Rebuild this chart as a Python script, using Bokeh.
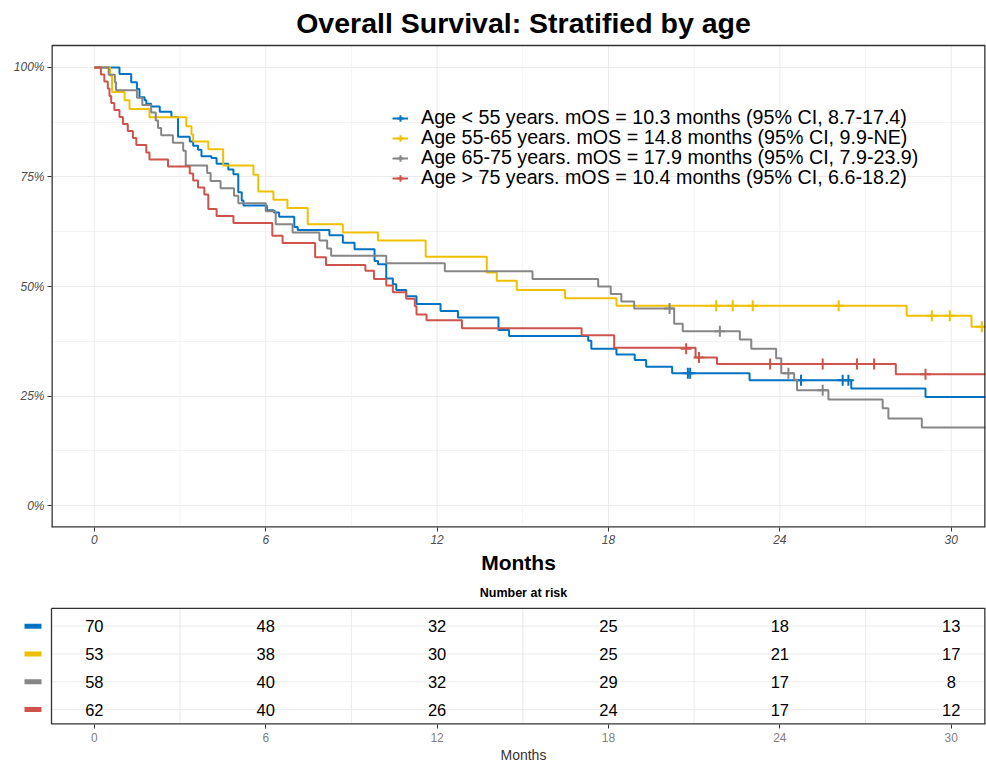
from bokeh.plotting import figure
from bokeh.models import (Range1d, FixedTicker, PrintfTickFormatter, Legend,
                          LegendItem, Title)
from bokeh.core.properties import value
from bokeh.layouts import column
from bokeh.embed import file_html
from bokeh.resources import INLINE

FONT = "Liberation Sans"

# ---------------- data ----------------
title_text = "Overall Survival: Stratified by age"
group_labels = [
    "Age < 55 years. mOS = 10.3 months (95% CI, 8.7-17.4)",
    "Age 55-65 years. mOS = 14.8 months (95% CI, 9.9-NE)",
    "Age 65-75 years. mOS = 17.9 months (95% CI, 7.9-23.9)",
    "Age > 75 years. mOS = 10.4 months (95% CI, 6.6-18.2)",
]
colors = ["#0073C2", "#EFC000", "#868686", "#CD534C"]

blue_t = [0, 0.88, 1.29, 1.49, 1.58, 1.76, 1.82, 1.99, 2.29, 2.70, 2.93, 3.34, 3.46, 3.63,
          3.75, 4.10, 4.28, 4.69, 4.87, 5.04, 5.16, 5.22, 6.04, 6.29, 6.47, 7.00, 7.12, 8.23,
          8.70, 9.11, 9.81, 9.93, 10.22, 10.45, 10.57, 10.92, 11.28, 12.12, 12.73, 14.15,
          14.52, 17.29, 17.40, 18.28, 18.92, 19.32, 20.23, 22.94, 26.50, 29.10]
blue_s = [100, 98.5, 96.6, 95.1, 93.2, 92.5, 91.7, 91.1, 89.9, 88.7, 84.2, 83.1, 82.1, 81.2,
          79.7, 79.3, 78.0, 76.7, 75.6, 71.5, 69.6, 68.5, 67.4, 66.9, 65.9, 63.6, 62.9, 61.7,
          60.0, 58.5, 55.8, 55.1, 51.8, 50.5, 49.2, 47.8, 46.0, 44.4, 42.9, 40.1,
          38.7, 37.6, 35.8, 34.5, 33.2, 31.7, 30.2, 28.6, 26.7, 24.8]
blue_cens_t = [20.78, 20.86, 24.74, 26.20, 26.40]
blue_cens_s = [30.2, 30.2, 28.6, 28.6, 28.6]

yellow_t = [0, 0.55, 0.62, 1.06, 1.23, 1.93, 3.22, 3.40, 3.46, 3.99, 4.51, 5.57, 5.74, 6.27,
            6.76, 7.47, 8.70, 9.93, 11.60, 13.74, 14.09, 14.79, 16.48, 18.28, 28.44, 30.71]
yellow_s = [100, 98.1, 94.4, 92.5, 90.5, 88.6, 86.6, 84.7, 83.1, 81.3, 77.6, 75.5, 71.7, 69.8,
            67.9, 64.2, 62.3, 60.5, 56.8, 53.2, 51.3, 49.2, 47.3, 45.6, 43.3, 40.8]
yellow_cens_t = [21.77, 22.35, 23.05, 26.06, 29.32, 29.95, 31.07]
yellow_cens_s = [45.6, 45.6, 45.6, 45.6, 43.3, 43.3, 40.8]

grey_t = [0, 0.50, 0.72, 0.76, 1.49, 1.68, 1.99, 2.15, 2.23, 2.34, 2.75, 3.11, 3.20, 3.95,
          4.07, 4.42, 4.89, 5.04, 6.00, 6.35, 6.94, 7.88, 8.15, 8.29, 10.22, 12.27, 15.34,
          17.64, 18.08, 18.45, 18.90, 20.30, 20.60, 22.60, 23.00, 23.87, 24.05, 24.50, 24.60,
          25.70, 27.60, 27.80, 28.97]
grey_s = [100, 98.3, 96.6, 94.8, 93.1, 91.4, 89.7, 87.9, 86.2, 84.5, 82.8, 81.0, 77.6, 75.9,
          74.1, 72.4, 70.7, 69.0, 67.2, 64.2, 62.3, 60.5, 58.7, 57.0, 55.3, 53.5, 51.7,
          50.0, 48.3, 46.6, 45.0, 41.5, 39.8, 37.9, 35.8, 33.6, 30.2, 28.7, 26.3,
          24.2, 22.2, 19.9, 17.8]
grey_cens_t = [20.14, 21.90, 24.30, 25.50]
grey_cens_s = [45.0, 39.8, 30.2, 26.3]

red_t = [0, 0.23, 0.35, 0.47, 0.53, 0.59, 0.70, 0.88, 1.00, 1.17, 1.35, 1.47, 1.82, 1.93,
         2.58, 3.34, 3.46, 3.63, 3.85, 3.99, 4.28, 4.87, 6.23, 6.59, 7.73, 8.11, 9.49, 9.79,
         10.22, 10.45, 10.92, 11.22, 11.28, 11.63, 12.87, 17.06, 18.20, 21.05, 21.80, 28.06]
red_s = [100, 98.4, 96.8, 95.2, 93.5, 91.9, 90.3, 88.7, 87.1, 85.5, 83.9, 82.3, 80.6, 79.0,
         77.4, 75.8, 74.2, 72.6, 71.0, 67.7, 66.1, 64.5, 61.6, 59.9, 56.7, 54.9, 53.6, 51.7,
         50.2, 48.7, 47.2, 45.5, 43.6, 42.3, 40.5, 38.9, 36.0, 33.8, 32.3, 30.0]
red_cens_t = [20.72, 21.17, 23.66, 25.50, 26.70, 27.30, 29.10]
red_cens_s = [35.8, 33.8, 32.3, 32.3, 32.3, 32.3, 30.0]

last_followup = [31.5, 31.5, 31.5, 31.5]

month_ticks = [0, 6, 12, 18, 24, 30]
month_minor = [3, 9, 15, 21, 27]
pct_ticks = [0, 25, 50, 75, 100]
pct_minor = [12.5, 37.5, 62.5, 87.5]

risk_title = "Number at risk"
risk_blue = [70, 48, 32, 25, 18, 13]
risk_yellow = [53, 38, 30, 25, 21, 17]
risk_grey = [58, 40, 32, 29, 17, 8]
risk_red = [62, 40, 26, 24, 17, 12]

# ---------------- layout constants (pixels) ----------------
X0, X1 = -1.5, 31.2          # x panel limits (months)
Y0, Y1 = -5, 105             # y panel limits (%)
FRAME_L, FRAME_R = 51, 985
PANEL_TOP, PANEL_BOT = 45, 527
PXM = (FRAME_R - FRAME_L) / (X1 - X0)
PXY = (PANEL_BOT - PANEL_TOP) / (Y1 - Y0)
Y_TOP = Y1 + PANEL_TOP / PXY          # frame extends to canvas top (title area)
BORDER = "#333333"

def px_to_month(px):
    return X0 + (px - FRAME_L) / PXM

# ---------------- main KM plot ----------------
p = figure(width=986, height=577, x_range=Range1d(X0, X1), y_range=Range1d(Y0, Y_TOP),
           output_backend="svg", toolbar_location=None,
           min_border_left=FRAME_L, min_border_right=986 - FRAME_R, min_border_top=0,
           min_border_bottom=577 - PANEL_BOT)
p.background_fill_color = "white"
p.border_fill_color = "white"
p.outline_line_color = None
try:
    p.frame_align = False
except Exception:
    pass

p.xaxis.ticker = FixedTicker(ticks=month_ticks)
p.yaxis.ticker = FixedTicker(ticks=pct_ticks, minor_ticks=pct_minor)
p.yaxis.formatter = PrintfTickFormatter(format="%d%%")
for ax in (p.xaxis[0], p.yaxis[0]):
    ax.axis_line_color = None
    ax.major_tick_line_color = BORDER
    ax.major_tick_out = 4
    ax.major_tick_in = 0
    ax.minor_tick_line_color = None
    ax.major_label_text_font = FONT
    ax.major_label_text_font_size = "12px"
    ax.major_label_text_font_style = "italic"
    ax.major_label_text_color = "#4D4D4D"
    ax.major_label_standoff = 3
p.xaxis.axis_label = "Months"
p.xaxis.axis_label_text_font = FONT
p.xaxis.axis_label_text_font_size = "21px"
p.xaxis.axis_label_text_font_style = "bold"
p.xaxis.axis_label_text_color = "black"
p.xaxis.axis_label_standoff = 4

p.xgrid.visible = False
p.ygrid.grid_line_color = "#EBEBEB"
p.ygrid.minor_grid_line_color = "#F3F3F3"
# vertical grid lines inside the panel only
p.segment(x0=month_minor, y0=[Y0] * len(month_minor), x1=month_minor, y1=[Y1] * len(month_minor),
          line_color="#F3F3F3", line_width=1)
p.segment(x0=month_ticks, y0=[Y0] * len(month_ticks), x1=month_ticks, y1=[Y1] * len(month_ticks),
          line_color="#EBEBEB", line_width=1)

series = [
    (blue_t, blue_s, blue_cens_t, blue_cens_s),
    (yellow_t, yellow_s, yellow_cens_t, yellow_cens_s),
    (grey_t, grey_s, grey_cens_t, grey_cens_s),
    (red_t, red_s, red_cens_t, red_cens_s),
]
items = []
for (t, s, ct, cs), col, lab, lf in zip(series, colors, group_labels, last_followup):
    lr = p.step(x=t + [lf], y=s + [s[-1]], mode="after", line_color=col, line_width=2)
    cr = p.scatter(x=ct, y=cs, marker="cross", size=11, line_color=col, line_width=2)
    items.append(LegendItem(label=lab, renderers=[lr, cr]))

# panel border (left/right/bottom sit on the frame edge, so they are drawn wider)
p.segment(x0=[X0, X0, X0, X1], y0=[Y1, Y0, Y0, Y0], x1=[X1, X1, X0, X1], y1=[Y1, Y0, Y1, Y1],
          line_color=BORDER, line_width=[1.3, 2.6, 2.6, 2.6])

# title
p.text(x=[px_to_month(523)], y=[Y1 + (PANEL_TOP - 22) / PXY], text=[title_text],
       text_font=value(FONT), text_font_size="28.5px", text_font_style="bold",
       text_align="center", text_baseline="middle", text_color="black")

# legend: one row per legend so rows are exactly 20 px apart
for i, it in enumerate(items):
    lg = Legend(items=[it], location=(341, 398 - 20 * i), orientation="vertical")
    lg.label_text_font = FONT
    lg.label_text_font_size = "19.7px"
    lg.label_text_color = "black"
    lg.label_height = 20
    lg.glyph_height = 20
    lg.glyph_width = 16
    lg.label_standoff = 13
    lg.spacing = 0
    lg.padding = 0
    lg.margin = 0
    lg.border_line_color = None
    lg.background_fill_alpha = 0
    p.add_layout(lg)

# ---------------- risk table ----------------
TB_H = 185
TB_TOP = 577
TB_FRAME_BOT = 725
ROW_PX = 28
ROW1_PX = 710             # pixel of the bottom row
TBL_TOP_PX, TITLE_PX = 608, 593
row_y = [4, 3, 2, 1]
YB = 1 - (TB_FRAME_BOT - ROW1_PX) / ROW_PX
YT = 1 + (ROW1_PX - TB_TOP) / ROW_PX
Y_BORDER_TOP = 1 + (ROW1_PX - TBL_TOP_PX) / ROW_PX
TX0 = X0 - FRAME_L / PXM

tb = figure(width=986, height=TB_H, x_range=Range1d(TX0, X1), y_range=Range1d(YB, YT),
            output_backend="svg", toolbar_location=None,
            min_border_left=0, min_border_right=986 - FRAME_R, min_border_top=0,
            min_border_bottom=TB_H - (TB_FRAME_BOT - TB_TOP))
try:
    tb.frame_align = False
except Exception:
    pass
tb.outline_line_color = None
tb.background_fill_color = "white"
tb.border_fill_color = "white"
tb.yaxis.visible = False
tb.xgrid.visible = False
tb.ygrid.visible = False

tb.xaxis.ticker = FixedTicker(ticks=month_ticks)
tb.xaxis.axis_line_color = None
tb.xaxis.major_tick_line_color = BORDER
tb.xaxis.major_tick_out = 4
tb.xaxis.major_tick_in = 0
tb.xaxis.minor_tick_line_color = None
tb.xaxis.major_label_text_font = FONT
tb.xaxis.major_label_text_font_size = "12px"
tb.xaxis.major_label_text_color = "#7F7F7F"
tb.xaxis.major_label_standoff = 4
tb.add_layout(Title(text="Months", align="left", offset=500, text_font=FONT,
                    text_font_size="14px", text_font_style="normal",
                    text_color="#333333", standoff=0), "below")

# table grid
tb.segment(x0=month_minor, y0=[YB] * len(month_minor), x1=month_minor,
           y1=[Y_BORDER_TOP] * len(month_minor), line_color="#EBEBEB", line_width=1)
tb.segment(x0=[X0] * 4, y0=row_y, x1=[X1] * 4, y1=row_y, line_color="#EBEBEB", line_width=1)
# table border
tb.segment(x0=[X0, X0, X0, X1], y0=[Y_BORDER_TOP, YB, YB, YB],
           x1=[X1, X1, X0, X1], y1=[Y_BORDER_TOP, YB, Y_BORDER_TOP, Y_BORDER_TOP],
           line_color=BORDER, line_width=[1.3, 2.6, 1.3, 2.6])

tb.text(x=[px_to_month(523)], y=[1 + (ROW1_PX - TITLE_PX) / ROW_PX], text=[risk_title],
        text_font=value(FONT), text_font_size="12.5px", text_font_style="bold",
        text_align="center", text_baseline="middle", text_color="black")

risks = [risk_blue, risk_yellow, risk_grey, risk_red]
for ry, rk in zip(row_y, risks):
    tb.text(x=month_ticks, y=[ry] * len(month_ticks), text=[str(v) for v in rk],
            text_align="center", text_baseline="middle", text_font_size="16.5px",
            text_font=value(FONT), text_color="black")

tb.rect(x=[px_to_month(32.5)] * 4, y=row_y, width=17, height=5, width_units="screen",
        height_units="screen", fill_color=colors, line_color=None)

layout = column(p, tb, spacing=0)
open("out.html", "w").write(file_html(layout, INLINE))
